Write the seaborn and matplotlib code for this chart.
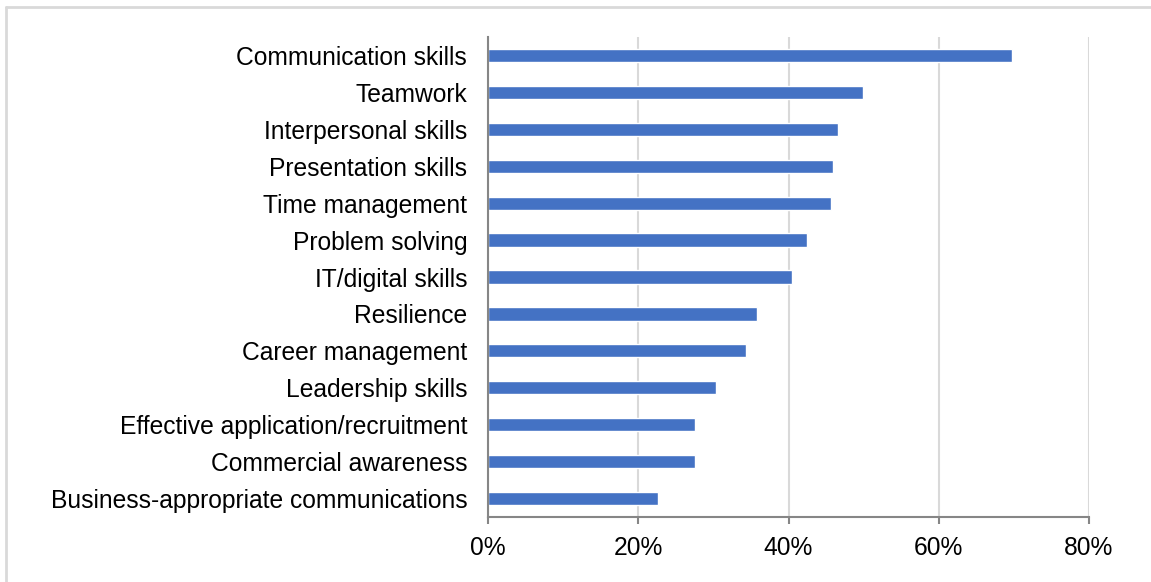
import matplotlib
matplotlib.use("Agg")
import matplotlib.pyplot as plt
from matplotlib.lines import Line2D
from matplotlib.ticker import PercentFormatter
import pandas as pd
import seaborn as sns

skills = [
    "Communication skills",
    "Teamwork",
    "Interpersonal skills",
    "Presentation skills",
    "Time management",
    "Problem solving",
    "IT/digital skills",
    "Resilience",
    "Career management",
    "Leadership skills",
    "Effective application/recruitment",
    "Commercial awareness",
    "Business-appropriate communications",
]
shares = [69.7, 49.9, 46.6, 45.9, 45.7, 42.4, 40.5, 35.8, 34.3, 30.4, 27.5, 27.5, 22.6]
x_ticks = [0, 20, 40, 60, 80]

df = pd.DataFrame({"skill": skills, "share": shares})

sns.set_theme(style="white")
plt.rcParams["font.family"] = ["Liberation Sans", "DejaVu Sans"]

W, H = 1151, 582
fig = plt.figure(figsize=(W / 100, H / 100), dpi=100)
ax = fig.add_axes([488 / W, 1 - 517 / H, 601 / W, 480 / H])

sns.barplot(data=df, x="share", y="skill", orient="h", color="#4472C4",
            saturation=1, width=0.36, ax=ax, zorder=3)

ax.set_xlim(0, 80)
ax.set_ylim(len(skills) - 0.5, -0.5)
ax.set_xticks(x_ticks)
ax.xaxis.set_major_formatter(PercentFormatter(decimals=0))
ax.set_xlabel("")
ax.set_ylabel("")

ax.grid(axis="x", color="#d9d9d9", linewidth=1.5, zorder=0)
ax.set_axisbelow(True)

for side in ["top", "right"]:
    ax.spines[side].set_visible(False)
for side in ["left", "bottom"]:
    ax.spines[side].set_color("#868686")
    ax.spines[side].set_linewidth(1.5)
    ax.spines[side].set_zorder(4)

ax.tick_params(axis="y", length=0, pad=15, labelsize=17.7, labelcolor="#000000")
ax.tick_params(axis="x", bottom=True, length=5, width=1.5, color="#868686",
               pad=9, labelsize=17.7, labelcolor="#000000")

# Light outline along the top and left of the chart area
x0, y0 = 5.5 / W, 1 - 6.5 / H
fig.add_artist(Line2D([x0, 1], [y0, y0], transform=fig.transFigure,
                      color="#d9d9d9", linewidth=2))
fig.add_artist(Line2D([x0, x0], [0, y0], transform=fig.transFigure,
                      color="#d9d9d9", linewidth=2))

fig.savefig("out.png", dpi=100, facecolor="white")
